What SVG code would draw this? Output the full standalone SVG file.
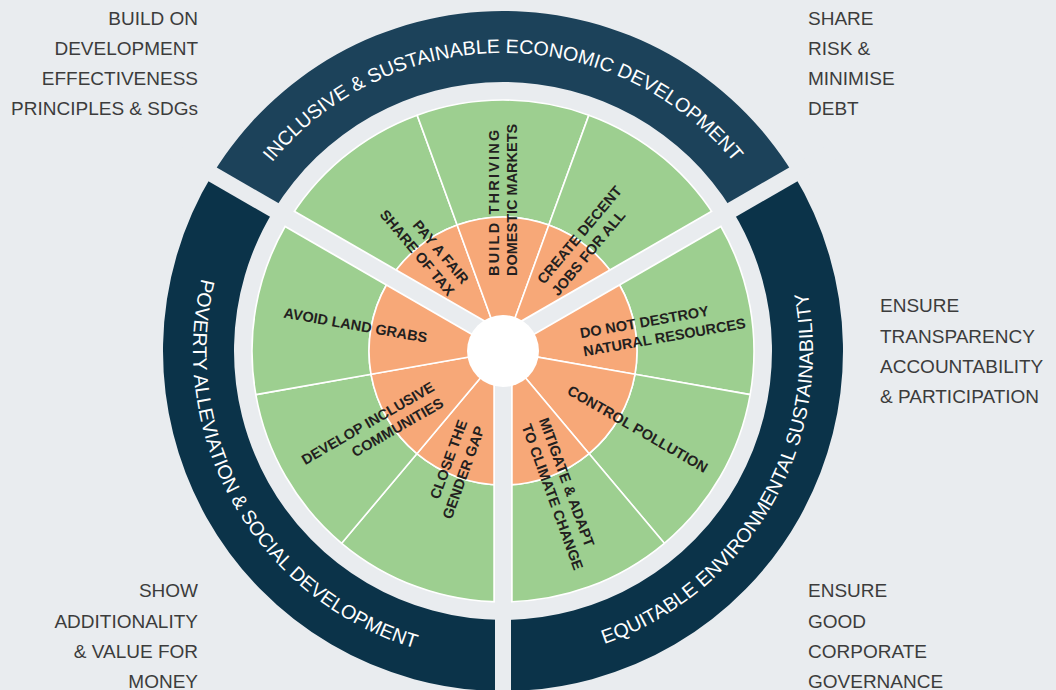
<svg xmlns="http://www.w3.org/2000/svg" width="1056" height="690" viewBox="0 0 1056 690">
<defs>
<style>
.bgc{fill:#e9ecef}
.grn{fill:#9dcf90;stroke:#ffffff;stroke-width:1.6;stroke-linejoin:round}
.org{fill:#f7a878;stroke:#ffffff;stroke-width:1.6;stroke-linejoin:round}
.btop{fill:#1c425a}
.bside{fill:#0b3349}
.btxt{font-family:"Liberation Sans",Arial,sans-serif;font-size:19.6px;fill:#ffffff}
.lbl{font-family:"Liberation Sans",Arial,sans-serif;font-weight:bold;font-size:14.5px;fill:#231f20}
.side{font-family:"Liberation Sans",Arial,sans-serif;font-size:19px;fill:#3c3c3c}
.gap{stroke:#e9ecef;stroke-width:16;fill:none}
.gapw{stroke:#ffffff;stroke-width:19.5;fill:none}
</style>
<clipPath id="wheelClip"><circle cx="503" cy="351" r="251"/></clipPath>
<path id="arcTop" d="M 244.9 202 A 298 298 0 0 1 761.1 202"/>
<path id="arcLeft" d="M 234.5 196 A 310 310 0 0 0 503 661"/>
<path id="arcRight" d="M 503 661 A 310 310 0 0 0 771.5 196"/>
</defs>
<rect class="bgc" x="0" y="0" width="1056" height="690"/>

<g id="band-economic">
<path class="btop" d="M 213.1 173.35 A 340 340 0 0 1 792.9 173.35 L 732.36 210.45 A 269 269 0 0 0 273.64 210.45 Z"/>
<text class="btxt"><textPath href="#arcTop" startOffset="50%" text-anchor="middle">INCLUSIVE &amp; SUSTAINABLE ECONOMIC DEVELOPMENT</textPath></text>
</g>
<g id="band-social">
<path class="bside" d="M 503 691 A 340 340 0 0 1 213.1 173.35 L 273.64 210.45 A 269 269 0 0 0 503 620 Z"/>
<text class="btxt"><textPath href="#arcLeft" startOffset="50%" text-anchor="middle">POVERTY ALLEVIATION &amp; SOCIAL DEVELOPMENT</textPath></text>
</g>
<g id="band-environment">
<path class="bside" d="M 792.9 173.35 A 340 340 0 0 1 503 691 L 503 620 A 269 269 0 0 0 732.36 210.45 Z"/>
<text class="btxt"><textPath href="#arcRight" startOffset="50%" text-anchor="middle">EQUITABLE ENVIRONMENTAL SUSTAINABILITY</textPath></text>
</g>

<g id="sector-tax">
<path class="grn" d="M 285.63 225.5 A 251 251 0 0 1 417.15 115.14 L 457.17 225.08 A 134 134 0 0 0 386.95 284 Z"/>
<path class="org" d="M 503 351 L 386.95 284 A 134 134 0 0 1 457.17 225.08 Z"/>
<g transform="translate(503 351) rotate(50)"><text class="lbl" text-anchor="end"><tspan x="-77" y="-11.05">PAY A FAIR</tspan><tspan x="-77" y="7.45">SHARE OF TAX</tspan></text></g>
</g>
<g id="sector-markets">
<path class="grn" d="M 417.15 115.14 A 251 251 0 0 1 588.85 115.14 L 548.83 225.08 A 134 134 0 0 0 457.17 225.08 Z"/>
<path class="org" d="M 503 351 L 457.17 225.08 A 134 134 0 0 1 548.83 225.08 Z"/>
<g transform="translate(503 351) rotate(-90)"><text class="lbl"><tspan x="75" y="-4.05" letter-spacing="2.2">BUILD THRIVING</tspan><tspan x="75" y="14.45">DOMESTIC MARKETS</tspan></text></g>
</g>
<g id="sector-jobs">
<path class="grn" d="M 588.85 115.14 A 251 251 0 0 1 720.37 225.5 L 619.05 284 A 134 134 0 0 0 548.83 225.08 Z"/>
<path class="org" d="M 503 351 L 548.83 225.08 A 134 134 0 0 1 619.05 284 Z"/>
<g transform="translate(503 351) rotate(-50)"><text class="lbl"><tspan x="77" y="-11.05">CREATE DECENT</tspan><tspan x="77" y="7.45">JOBS FOR ALL</tspan></text></g>
</g>
<g id="sector-resources">
<path class="grn" d="M 720.37 225.5 A 251 251 0 0 1 750.19 394.59 L 634.96 374.27 A 134 134 0 0 0 619.05 284 Z"/>
<path class="org" d="M 503 351 L 619.05 284 A 134 134 0 0 1 634.96 374.27 Z"/>
<g transform="translate(503 351) rotate(-10)"><text class="lbl"><tspan x="79" y="0.95">DO NOT DESTROY</tspan><tspan x="79" y="19.45">NATURAL RESOURCES</tspan></text></g>
</g>
<g id="sector-pollution">
<path class="grn" d="M 750.19 394.59 A 251 251 0 0 1 664.34 543.28 L 589.13 453.65 A 134 134 0 0 0 634.96 374.27 Z"/>
<path class="org" d="M 503 351 L 634.96 374.27 A 134 134 0 0 1 589.13 453.65 Z"/>
<g transform="translate(503 351) rotate(30)"><text class="lbl" x="76" y="5.2">CONTROL POLLUTION</text></g>
</g>
<g id="sector-climate">
<path class="grn" d="M 664.34 543.28 A 251 251 0 0 1 503 602 L 503 485 A 134 134 0 0 0 589.13 453.65 Z"/>
<path class="org" d="M 503 351 L 589.13 453.65 A 134 134 0 0 1 503 485 Z"/>
<g transform="translate(503 351) rotate(70)"><text class="lbl"><tspan x="77" y="-10.05">MITIGATE &amp; ADAPT</tspan><tspan x="77" y="8.45">TO CLIMATE CHANGE</tspan></text></g>
</g>
<g id="sector-gender">
<path class="grn" d="M 503 602 A 251 251 0 0 1 341.66 543.28 L 416.87 453.65 A 134 134 0 0 0 503 485 Z"/>
<path class="org" d="M 503 351 L 503 485 A 134 134 0 0 1 416.87 453.65 Z"/>
<g transform="translate(503 351) rotate(-70)"><text class="lbl" text-anchor="end"><tspan x="-79" y="-9.05">CLOSE THE</tspan><tspan x="-79" y="9.45">GENDER GAP</tspan></text></g>
</g>
<g id="sector-communities">
<path class="grn" d="M 341.66 543.28 A 251 251 0 0 1 255.81 394.59 L 371.04 374.27 A 134 134 0 0 0 416.87 453.65 Z"/>
<path class="org" d="M 503 351 L 416.87 453.65 A 134 134 0 0 1 371.04 374.27 Z"/>
<g transform="translate(503 351) rotate(-30)"><text class="lbl" text-anchor="end"><tspan x="-78" y="-0.05">DEVELOP INCLUSIVE</tspan><tspan x="-78" y="18.45">COMMUNITIES</tspan></text></g>
</g>
<g id="sector-land">
<path class="grn" d="M 255.81 394.59 A 251 251 0 0 1 285.63 225.5 L 386.95 284 A 134 134 0 0 0 371.04 374.27 Z"/>
<path class="org" d="M 503 351 L 371.04 374.27 A 134 134 0 0 1 386.95 284 Z"/>
<g transform="translate(503 351) rotate(10)"><text class="lbl" text-anchor="end" x="-77" y="5.2">AVOID LAND GRABS</text></g>
</g>

<g id="connectors">
<g clip-path="url(#wheelClip)">
<line class="gapw" x1="503" y1="342" x2="503" y2="700"/>
<line class="gapw" x1="503" y1="342" x2="173.9" y2="152"/>
<line class="gapw" x1="503" y1="342" x2="832.1" y2="152"/>
</g>
<line class="gap" x1="503" y1="342" x2="503" y2="700"/>
<line class="gap" x1="503" y1="342" x2="173.9" y2="152"/>
<line class="gap" x1="503" y1="342" x2="832.1" y2="152"/>
</g>

<g id="hub"><circle cx="503" cy="351" r="36" fill="#ffffff"/></g>

<g id="note-principles">
<text class="side" text-anchor="end"><tspan x="198" y="25">BUILD ON</tspan><tspan x="198" y="55">DEVELOPMENT</tspan><tspan x="198" y="85">EFFECTIVENESS</tspan><tspan x="198" y="115">PRINCIPLES &amp; SDGs</tspan></text>
</g>
<g id="note-risk">
<text class="side"><tspan x="808" y="25">SHARE</tspan><tspan x="808" y="55">RISK &amp;</tspan><tspan x="808" y="85">MINIMISE</tspan><tspan x="808" y="115">DEBT</tspan></text>
</g>
<g id="note-transparency">
<text class="side"><tspan x="880" y="312">ENSURE</tspan><tspan x="880" y="342.5">TRANSPARENCY</tspan><tspan x="880" y="372.5">ACCOUNTABILITY</tspan><tspan x="880" y="402.5">&amp; PARTICIPATION</tspan></text>
</g>
<g id="note-additionality">
<text class="side" text-anchor="end"><tspan x="198" y="597">SHOW</tspan><tspan x="198" y="628">ADDITIONALITY</tspan><tspan x="198" y="658">&amp; VALUE FOR</tspan><tspan x="198" y="688">MONEY</tspan></text>
</g>
<g id="note-governance">
<text class="side"><tspan x="808" y="597">ENSURE</tspan><tspan x="808" y="628">GOOD</tspan><tspan x="808" y="658">CORPORATE</tspan><tspan x="808" y="688">GOVERNANCE</tspan></text>
</g>
</svg>
